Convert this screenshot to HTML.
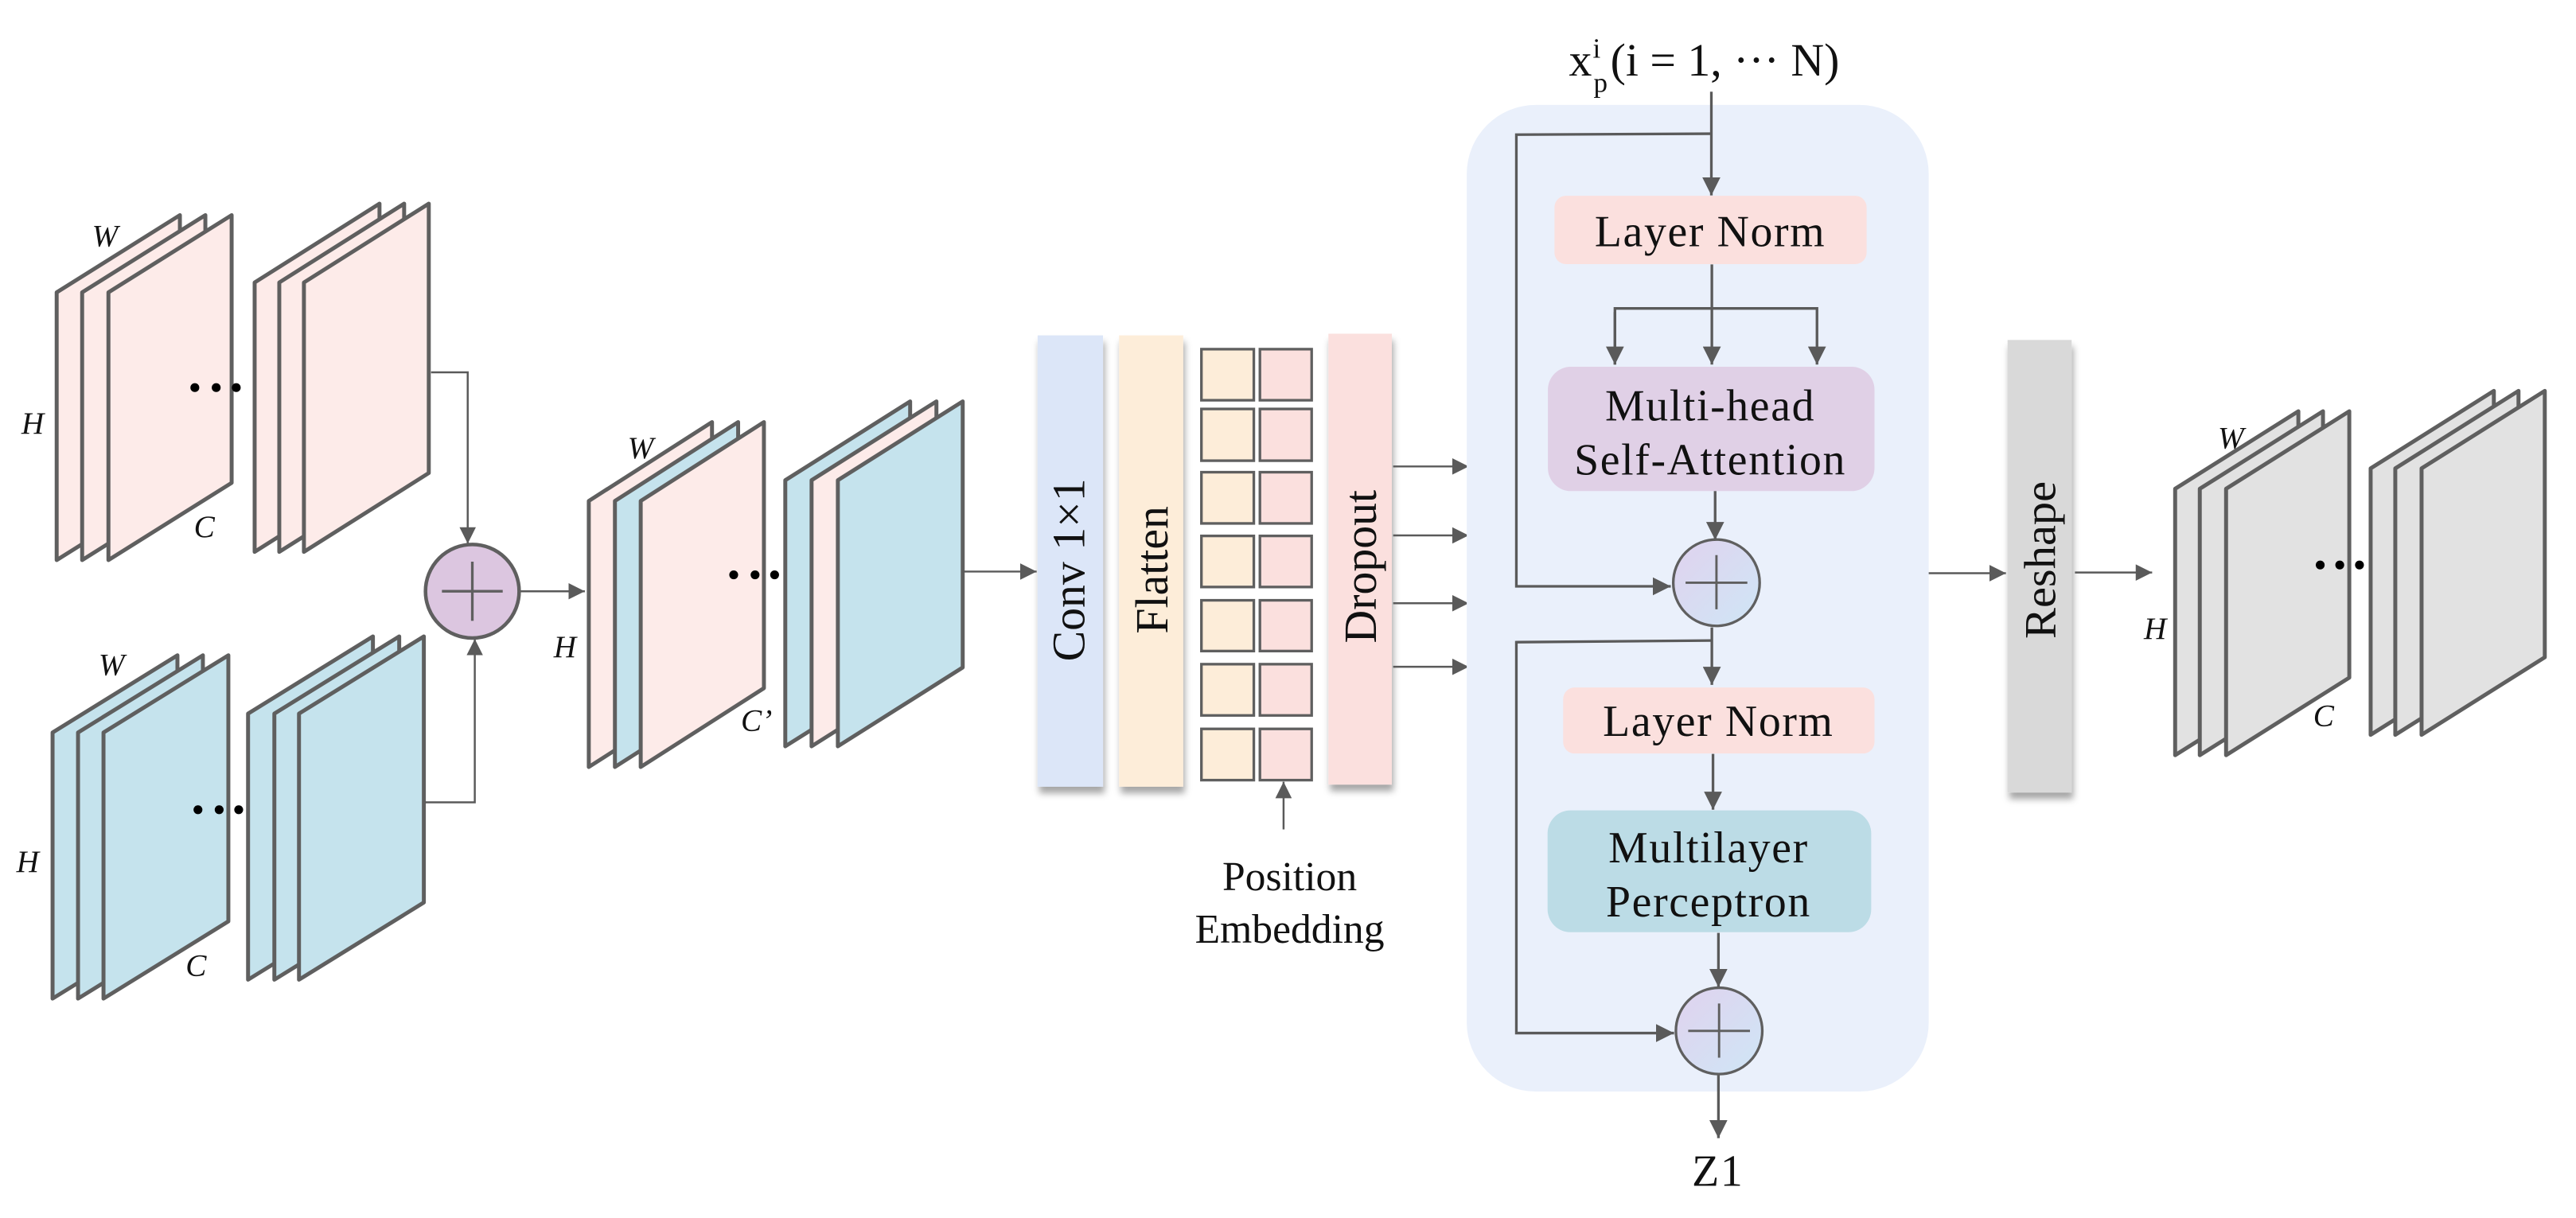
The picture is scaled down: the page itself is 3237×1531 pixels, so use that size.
<!DOCTYPE html>
<html><head><meta charset="utf-8"><style>
html,body{margin:0;padding:0;background:#fff;}
svg{display:block;}
text{font-family:"Liberation Serif",serif;fill:#111;}
</style></head><body>
<svg width="3237" height="1531" viewBox="0 0 1568 741.6" preserveAspectRatio="none" xmlns="http://www.w3.org/2000/svg">
<defs>
<marker id="ah" viewBox="0 0 10 10" refX="10" refY="5" markerWidth="10" markerHeight="10" markerUnits="userSpaceOnUse" orient="auto"><path d="M0,0 L10,5 L0,10 z" fill="#5a5a5a"/></marker>
<marker id="ahb" viewBox="0 0 10 10" refX="10" refY="5" markerWidth="11" markerHeight="11" markerUnits="userSpaceOnUse" orient="auto"><path d="M0,0 L10,5 L0,10 z" fill="#5a5a5a"/></marker>
<filter id="sh" x="-30%" y="-10%" width="160%" height="125%"><feDropShadow dx="1" dy="4" stdDeviation="2" flood-color="#000" flood-opacity="0.35"/></filter>
<linearGradient id="cg" x1="0" y1="0" x2="1" y2="1"><stop offset="0" stop-color="#e0d2ee"/><stop offset="1" stop-color="#cfe6f6"/></linearGradient>
</defs>

<g stroke="#5f5f5f" stroke-width="2.4" stroke-linejoin="round">
<polygon points="34.5,178 109.5,131 109.5,294 34.5,341" fill="#fdebe9"/>
<polygon points="50,178 125,131 125,294 50,341" fill="#fdebe9"/>
<polygon points="66,178 141,131 141,294 66,341" fill="#fdebe9"/>
<polygon points="155,172 231,124 231,288 155,336" fill="#fdebe9"/>
<polygon points="170,172 246,124 246,288 170,336" fill="#fdebe9"/>
<polygon points="185,172 261,124 261,288 185,336" fill="#fdebe9"/>
<polygon points="32,446 108,399 108,561 32,608" fill="#c5e3ed"/>
<polygon points="47.5,446 123.5,399 123.5,561 47.5,608" fill="#c5e3ed"/>
<polygon points="63,446 139,399 139,561 63,608" fill="#c5e3ed"/>
<polygon points="151,434.5 227,387.5 227,549.5 151,596.5" fill="#c5e3ed"/>
<polygon points="167,434.5 243,387.5 243,549.5 167,596.5" fill="#c5e3ed"/>
<polygon points="182,434.5 258,387.5 258,549.5 182,596.5" fill="#c5e3ed"/>
<polygon points="358.4,305 433.4,257 433.4,419 358.4,467" fill="#fdebe9"/>
<polygon points="374.3,305 449.3,257 449.3,419 374.3,467" fill="#c5e3ed"/>
<polygon points="390,305 465,257 465,419 390,467" fill="#fdebe9"/>
<polygon points="478,292.4 554,244.4 554,406.4 478,454.4" fill="#c5e3ed"/>
<polygon points="494,292.4 570,244.4 570,406.4 494,454.4" fill="#fdebe9"/>
<polygon points="510,292.4 586,244.4 586,406.4 510,454.4" fill="#c5e3ed"/>
<polygon points="1324,297.6 1399,250.4 1399,412.6 1324,459.8" fill="#e2e2e2"/>
<polygon points="1339,297.6 1414,250.4 1414,412.6 1339,459.8" fill="#e2e2e2"/>
<polygon points="1355,297.6 1430,250.4 1430,412.6 1355,459.8" fill="#e2e2e2"/>
<polygon points="1443,285.2 1518,238 1518,400.2 1443,447.4" fill="#e2e2e2"/>
<polygon points="1458,285.2 1533,238 1533,400.2 1458,447.4" fill="#e2e2e2"/>
<polygon points="1474,285.2 1549,238 1549,400.2 1474,447.4" fill="#e2e2e2"/>
</g>

<g fill="#000">
<circle cx="118.6" cy="236" r="2.7"/><circle cx="131.6" cy="236" r="2.7"/><circle cx="143.8" cy="236" r="2.7"/>
<circle cx="120.5" cy="493" r="2.7"/><circle cx="133.4" cy="493" r="2.7"/><circle cx="145.3" cy="493" r="2.7"/>
<circle cx="446.6" cy="350" r="2.7"/><circle cx="459.6" cy="350" r="2.7"/><circle cx="471.5" cy="350" r="2.7"/>
<circle cx="1412.3" cy="344" r="2.7"/><circle cx="1424.2" cy="344" r="2.7"/><circle cx="1436.2" cy="344" r="2.7"/>
</g>

<g font-style="italic" font-size="19">
<text x="56" y="150">W</text><text x="13" y="264">H</text><text x="118" y="327">C</text>
<text x="60" y="411">W</text><text x="10" y="531">H</text><text x="113" y="594">C</text>
<text x="382" y="279">W</text><text x="337" y="400">H</text><text x="451" y="445">C’</text>
<text x="1350" y="273">W</text><text x="1305" y="389">H</text><text x="1408" y="442">C</text>
</g>

<g stroke="#5a5a5a" stroke-width="1.2" fill="none">
<polyline points="262.4,226.7 284.7,226.7 284.7,331" marker-end="url(#ah)"/>
<polyline points="258.7,488.5 289,488.5 289,389" marker-end="url(#ah)"/>
<line x1="317" y1="360" x2="356" y2="360" marker-end="url(#ah)"/>
<line x1="586" y1="348" x2="631" y2="348" marker-end="url(#ah)"/>
</g>
<circle cx="287.5" cy="360" r="28.5" fill="#dcc6e0" stroke="#5f5f5f" stroke-width="2.2"/>
<g stroke="#5f5f5f" stroke-width="1.6"><line x1="269" y1="360" x2="306" y2="360"/><line x1="287.5" y1="342" x2="287.5" y2="378"/></g>

<g filter="url(#sh)">
<rect x="631.6" y="204.2" width="39.8" height="274.8" fill="#dce6f8"/>
<rect x="681.2" y="204.2" width="39" height="274.8" fill="#fdedd9"/>
<rect x="808.6" y="203.2" width="38.6" height="274.5" fill="#fbe0de"/>
<rect x="1222" y="207" width="39" height="275.5" fill="#d9d9d9"/>
</g>
<g font-size="28" text-anchor="middle">
<text transform="translate(660,347) rotate(-90)">Conv 1×1</text>
<text transform="translate(710.5,347) rotate(-90)">Flatten</text>
<text transform="translate(837.5,345) rotate(-90)">Dropout</text>
<text transform="translate(1251,341) rotate(-90)" font-size="27" textLength="96" lengthAdjust="spacingAndGlyphs">Reshape</text>
</g>

<g stroke="#5f5f5f" stroke-width="1.6">
<rect x="731.3" y="212.6" width="31.9" height="31.1" fill="#fdedd9"/><rect x="766.9" y="212.6" width="31.5" height="31.1" fill="#fbe0de"/>
<rect x="731.3" y="249" width="31.9" height="31.5" fill="#fdedd9"/><rect x="766.9" y="249" width="31.5" height="31.5" fill="#fbe0de"/>
<rect x="731.3" y="287.5" width="31.9" height="31.2" fill="#fdedd9"/><rect x="766.9" y="287.5" width="31.5" height="31.2" fill="#fbe0de"/>
<rect x="731.3" y="326.3" width="31.9" height="31.1" fill="#fdedd9"/><rect x="766.9" y="326.3" width="31.5" height="31.1" fill="#fbe0de"/>
<rect x="731.3" y="365.5" width="31.9" height="30.9" fill="#fdedd9"/><rect x="766.9" y="365.5" width="31.5" height="30.9" fill="#fbe0de"/>
<rect x="731.3" y="404.4" width="31.9" height="31.2" fill="#fdedd9"/><rect x="766.9" y="404.4" width="31.5" height="31.2" fill="#fbe0de"/>
<rect x="731.3" y="443.8" width="31.9" height="31.2" fill="#fdedd9"/><rect x="766.9" y="443.8" width="31.5" height="31.2" fill="#fbe0de"/>
</g>
<g stroke="#5a5a5a" stroke-width="1.2" fill="none">
<line x1="781.3" y1="505" x2="781.3" y2="476" marker-end="url(#ah)"/>
<line x1="848" y1="284" x2="894" y2="284" marker-end="url(#ah)"/>
<line x1="848" y1="326" x2="894" y2="326" marker-end="url(#ah)"/>
<line x1="848" y1="367.3" x2="894" y2="367.3" marker-end="url(#ah)"/>
<line x1="848" y1="406" x2="894" y2="406" marker-end="url(#ah)"/>
</g>
<g font-size="25" text-anchor="middle">
<text x="785" y="542">Position</text>
<text x="785" y="574">Embedding</text>
</g>

<rect x="892.8" y="63.9" width="281.2" height="600.7" rx="42" fill="#eaf0fb"/>
<text x="955" y="46" font-size="28">x<tspan font-size="17" dx="1" dy="10">p</tspan><tspan font-size="17" dx="-9" dy="-21">i</tspan><tspan dx="6" dy="11">(i = 1, ··· N)</tspan></text>

<rect x="946.2" y="119.2" width="190" height="41.6" rx="7" fill="#fbe0de"/>
<rect x="942.2" y="223.3" width="198.8" height="75.7" rx="14" fill="#e0d0e6"/>
<rect x="951.5" y="418.6" width="189.5" height="40.2" rx="7" fill="#fbe0de"/>
<rect x="942" y="493.4" width="197" height="74.2" rx="14" fill="#bcdce6"/>

<g stroke="#5a5a5a" stroke-width="1.6" fill="none">
<line x1="1041.7" y1="55.8" x2="1041.7" y2="119" marker-end="url(#ahb)"/>
<polyline points="1041.7,81.4 923,82 923,357 1017,357" marker-end="url(#ahb)"/>
<line x1="1042" y1="161" x2="1042" y2="222" marker-end="url(#ahb)"/>
<polyline points="983,222 983,187.8 1106,187.8 1106,222" marker-end="url(#ahb)"/>
<line x1="983" y1="190" x2="983" y2="222" marker-end="url(#ahb)"/>
<line x1="1044" y1="299" x2="1044" y2="328.8" marker-end="url(#ahb)"/>
<line x1="1042" y1="382" x2="1042" y2="417" marker-end="url(#ahb)"/>
<polyline points="1042,390 923,391 923,629 1019,629" marker-end="url(#ahb)"/>
<line x1="1042.7" y1="459" x2="1042.7" y2="493" marker-end="url(#ahb)"/>
<line x1="1046" y1="568" x2="1046" y2="601" marker-end="url(#ahb)"/>
<line x1="1046" y1="654" x2="1046" y2="693" marker-end="url(#ahb)"/>
</g>
<g stroke="#5a5a5a" stroke-width="1.2" fill="none">
<line x1="1174" y1="349" x2="1221" y2="349" marker-end="url(#ah)"/>
<line x1="1263" y1="348.6" x2="1310" y2="348.6" marker-end="url(#ah)"/>
</g>
<circle cx="1044.8" cy="354.8" r="26.3" fill="url(#cg)" stroke="#5f5f5f" stroke-width="1.6"/>
<circle cx="1046.4" cy="627.7" r="26.3" fill="url(#cg)" stroke="#5f5f5f" stroke-width="1.6"/>
<g stroke="#5f5f5f" stroke-width="1.4">
<line x1="1026" y1="354.8" x2="1063.6" y2="354.8"/><line x1="1044.8" y1="338" x2="1044.8" y2="371"/>
<line x1="1027.6" y1="627.7" x2="1065.2" y2="627.7"/><line x1="1046.4" y1="611" x2="1046.4" y2="644"/>
</g>

<g font-size="27" text-anchor="middle" letter-spacing="0.8">
<text x="1041" y="150">Layer Norm</text>
<text x="1041" y="256">Multi-head</text>
<text x="1041" y="289">Self-Attention</text>
<text x="1046" y="448">Layer Norm</text>
<text x="1040" y="525">Multilayer</text>
<text x="1040" y="558">Perceptron</text>
<text x="1045.7" y="722" font-size="27">Z1</text>
</g>
</svg>
</body></html>
